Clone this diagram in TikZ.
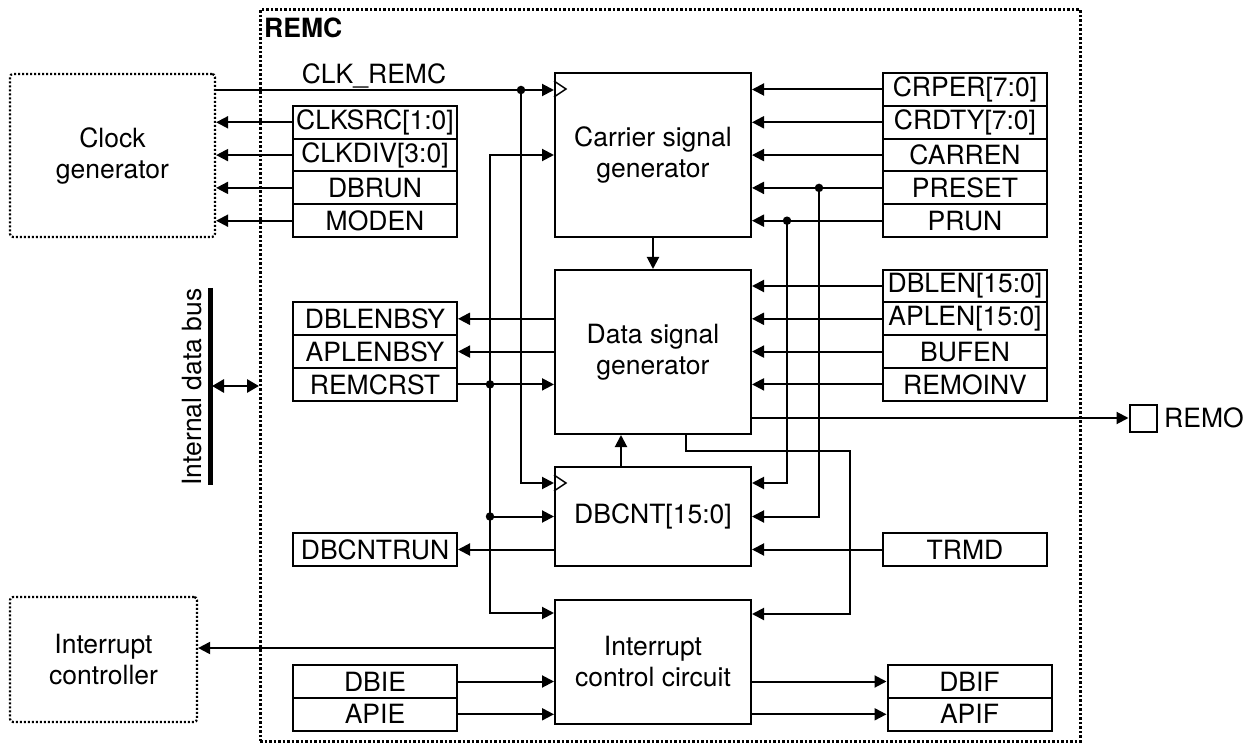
\documentclass[tikz,border=0pt]{standalone}
\usepackage{fontspec}
\setmainfont{TeX Gyre Heros}
\usetikzlibrary{arrows.meta,calc}
\begin{document}
\begin{tikzpicture}[x=1pt,y=-1pt,
 every node/.style={font=\fontsize{26.5}{31}\selectfont, inner sep=0pt},
 reg/.style={draw, line width=2pt, minimum width=164pt, minimum height=32.8pt},
 blk/.style={draw, line width=2pt, minimum width=196pt, align=center},
 ext/.style={draw, line width=2.2pt, dash pattern=on 2pt off 2pt, rounded corners=3pt, align=center},
 arr/.style={line width=2pt, -{Triangle[length=12pt,width=12pt]}},
 ln/.style={line width=2pt},
 dot/.style={circle, fill, minimum size=8.5pt, inner sep=0pt}]
\useasboundingbox (0,0) rectangle (1254,746);

% outer REMC box
\node[draw, line width=3pt, dash pattern=on 2.5pt off 2pt, minimum width=820pt, minimum height=731pt] (remc) at (670,375.5) {};
\node[font=\bfseries\fontsize{26.5}{31}\selectfont, anchor=west] (remclbl) at (264,28) {REMC};

% external blocks
\node[ext, minimum width=205pt, minimum height=163pt] (clkgen) at (112.5,155.5) {Clock\\generator};
\node[ext, minimum width=187pt, minimum height=125pt] (intc) at (103.5,659.5) {Interrupt\\controller};

% main blocks
\node[blk, minimum height=164pt] (csg) at (653,155) {Carrier signal\\generator};
\node[blk, minimum height=164pt] (dsg) at (653,352) {Data signal\\generator};
\node[blk, minimum height=99pt] (dbcnt) at (653,516.5) {DBCNT[15:0]};
\node[blk, minimum height=124pt] (icc) at (653,662) {Interrupt\\control circuit};

% clock triangles
\draw[line width=1.4pt] ($(csg.north west)+(0,9)$) -- ++(12,8) -- ++(-12,8);
\draw[line width=1.4pt] ($(dbcnt.north west)+(0,9)$) -- ++(12,8) -- ++(-12,8);

% left clock registers
\node[reg] (clksrc) at (375,122.3) {CLKSRC[1:0]};
\node[reg] (clkdiv) at (375,155.1) {CLKDIV[3:0]};
\node[reg] (dbrun) at (375,187.9) {DBRUN};
\node[reg] (moden) at (375,220.7) {MODEN};

% right carrier registers
\node[reg] (crper) at (965,89.5) {CRPER[7:0]};
\node[reg] (crdty) at (965,122.3) {CRDTY[7:0]};
\node[reg] (carren) at (965,155.1) {CARREN};
\node[reg] (preset) at (965,187.9) {PRESET};
\node[reg] (prun) at (965,220.7) {PRUN};

% data registers
\node[reg] (dblen) at (965,286) {DBLEN[15:0]};
\node[reg] (aplen) at (965,318.8) {APLEN[15:0]};
\node[reg] (bufen) at (965,351.6) {BUFEN};
\node[reg] (remoinv) at (965,384.4) {REMOINV};
\node[reg] (dblenbsy) at (375,318.8) {DBLENBSY};
\node[reg] (aplenbsy) at (375,351.6) {APLENBSY};
\node[reg] (remcrst) at (375,384.4) {REMCRST};

% counter registers
\node[reg] (dbcntrun) at (375,549.5) {DBCNTRUN};
\node[reg] (trmd) at (965,549.5) {TRMD};

% interrupt registers
\node[reg] (dbie) at (375,681.5) {DBIE};
\node[reg] (apie) at (375,714.3) {APIE};
\node[reg] (dbif) at (969.5,681.5) {DBIF};
\node[reg] (apif) at (969.5,714.3) {APIF};

% REMO pin
\node[draw, line width=2pt, minimum size=27pt] (remo) at (1143,418) {};
\node[anchor=west] (remotxt) at (1164,418) {REMO};

% CLK_REMC
\node (clklbl) at (374,76) {CLK\_REMC};
\coordinate (j1) at (521,90);
\draw[arr] (clkgen.east |- j1) -- (j1 -| csg.west);
\draw[arr] (j1) |- ($(dbcnt.north west)+(0,17)$);
\node[dot] at (j1) {};

% clock generator control
\foreach \r in {clksrc,clkdiv,dbrun,moden}
  \draw[arr] (\r.west) -- (\r.west -| clkgen.east);

% carrier registers
\foreach \r in {crper,crdty,carren,preset,prun}
  \draw[arr] (\r.west) -- (\r.west -| csg.east);
\coordinate (jp) at (819,187.9);
\coordinate (jn) at (787,220.7);
\draw[arr] (jp) |- (dbcnt.east);
\draw[arr] (jn) |- ($(dbcnt.north east)+(0,17)$);
\node[dot] at (jp) {};
\node[dot] at (jn) {};

% carrier -> data
\draw[arr] (csg.south) -- (dsg.north);

% data registers
\foreach \r in {dblen,aplen,bufen,remoinv}
  \draw[arr] (\r.west) -- (\r.west -| dsg.east);
\draw[arr] (dsg.west |- dblenbsy.east) -- (dblenbsy.east);
\draw[arr] (dsg.west |- aplenbsy.east) -- (aplenbsy.east);
\draw[arr] (remcrst.east) -- (remcrst.east -| dsg.west);

% reset distribution
\coordinate (jr) at (490,384.4);
\draw[arr] (jr) |- (csg.west);
\draw[arr] (jr) |- (dbcnt.west);
\draw[arr] (jr) |- ($(icc.north west)+(0,14)$);
\node[dot] at (jr) {};
\node[dot] at (jr |- dbcnt.west) {};

% REMO output
\draw[arr] (dsg.east |- remo) -- (remo.west);

% DBCNT
\draw[arr] ($(dbcnt.north west)+(67,0)$) -- ($(dsg.south west)+(67,0)$);
\draw[arr] (trmd.west) -- (trmd.west -| dbcnt.east);
\draw[arr] (dbcnt.west |- dbcntrun.east) -- (dbcntrun.east);

% data -> interrupt
\coordinate (b1) at (686,451);
\coordinate (b2) at (850,614);
\draw[arr] (b1 |- dsg.south) -- (b1) -| (b2) -- (b2 -| icc.east);

% interrupt
\coordinate (io) at (555,648);
\draw[arr] (io) -- (io -| intc.east);
\draw[arr] (dbie.east) -- (dbie.east -| icc.west);
\draw[arr] (apie.east) -- (apie.east -| icc.west);
\draw[arr] (icc.east |- dbif.west) -- (dbif.west);
\draw[arr] (icc.east |- apif.west) -- (apif.west);

% internal data bus
\coordinate (busT) at (210,288);
\coordinate (busB) at (210,485);
\draw[line width=5pt] (busT) -- (busB);
\coordinate (busM) at (212,386);
\coordinate (busR) at (259,386);
\draw[line width=2.8pt, {Triangle[length=12pt,width=13pt]}-{Triangle[length=12pt,width=13pt]}] (busM) -- (busR);
\node[rotate=90] (bustxt) at (192,387) {Internal data bus};
\end{tikzpicture}
\end{document}
